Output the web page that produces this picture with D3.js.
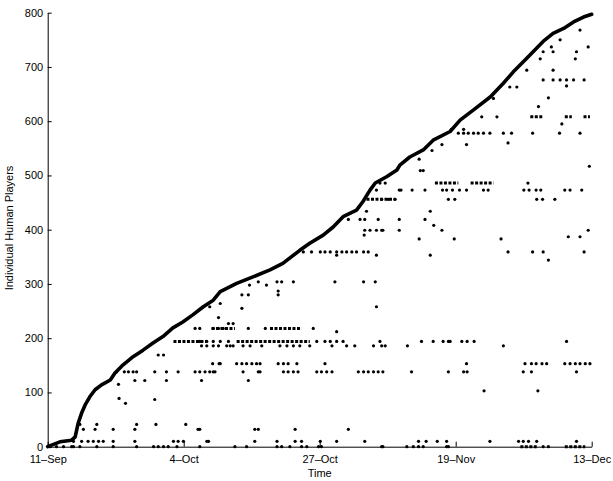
<!doctype html>
<html>
<head>
<meta charset="utf-8">
<style>
  body { margin: 0; background: #fff; }
  text { font-family: "Liberation Sans", Arial, sans-serif; fill: #000; }
</style>
</head>
<body>

<div id="container"></div>

<script src="https://d3js.org/d3.v7.min.js"></script>
<script type="text/javascript">

    // days since 11-Sep and running count of distinct players (first appearances)
    var curveDays = [0, 2.1, 4.1, 4.7, 5.2, 5.8, 6.4, 7.2, 8.1, 9.2, 10.7, 11.5, 12.9, 14.6, 16.3, 18.0, 19.7, 21.4, 23.1, 24.8,
        26.6, 28.3, 29.5, 32.3, 35.1, 38.0, 40.2, 43.1, 44.8, 47.1, 48.8, 50.5, 52.8, 53.9, 55.1, 56.0, 58.0, 59.7, 60.2, 61.9,
        64.2, 65.9, 68.8, 70.5, 72.8, 75.7, 77.9, 79.6, 81.9, 84.7, 86.4, 88.2, 89.9, 91.6, 93.0];
    var curvePlayers = [0, 9, 12, 18, 43, 62, 77, 92, 105, 114, 123, 136, 151, 166, 178, 191, 203, 219, 230, 243,
        258, 270, 286, 301, 313, 326, 338, 362, 375, 390, 405, 424, 436, 452, 473, 486, 498, 510, 519, 534,
        547, 565, 581, 602, 621, 645, 670, 691, 716, 747, 762, 771, 783, 792, 797];

    // returning players: [player index, [days seen]]
    var returnRows = [
        [0, [0.4, 1.5, 2.7, 4.1, 4.4, 5.5, 8.4, 11.2, 15.2, 18.1, 18.9, 19.8, 20.6, 22.1, 26.0, 32.0, 34.0, 39.2, 40.0, 41.4, 43.4, 44.3, 46.3, 46.8, 57.1, 57.3, 61.4, 62.5, 63.4, 64.2, 68.2, 68.5, 84.7, 85.6]],
        [10, [4.4, 5.8, 6.9, 7.8, 8.7, 9.5, 11.2, 14.9, 21.5, 22.3, 23.2, 27.2, 27.5, 35.4, 39.2, 42.3, 43.4, 46.6, 49.4, 54.2, 63.4, 64.7, 66.6, 68.2, 75.6, 80.5, 81.3, 82.2, 83.6, 90.4]],
        [32, [6.1, 8.1, 11.2, 14.9, 25.7, 26.0, 35.4, 36.0, 42.3, 51.4]],
        [41, [5.5, 8.4, 15.2, 18.5, 23.6]],
        [80, [13.3]],
        [87, [18.3]],
        [89, [12.2]],
        [103, [74.6, 83.8]],
        [115, [12.1]],
        [122, [14.9, 16.6, 20.3, 26.3, 34.3]],
        [138, [11.8, 13.1, 13.8, 14.6, 15.2, 18.3, 20.3, 22.3, 25.2, 26.0, 26.9, 27.7, 28.3, 28.6, 33.4, 36.0, 36.3, 40.3, 41.1, 42.0, 42.8, 46.0, 46.8, 47.7, 48.6, 53.1, 54.0, 54.8, 55.7, 56.5, 57.3, 62.2, 68.5, 71.1, 71.7, 81.3, 82.7, 90.4]],
        [153, [28.2, 29.3, 29.5, 32.3, 33.2, 34.0, 34.9, 35.7, 36.3, 39.4, 40.3, 41.1, 42.6, 47.4, 71.6, 81.6, 82.7, 83.5, 84.5, 85.3, 88.4, 89.3, 90.2, 91.0, 91.9, 92.7]],
        [169, [18.9, 19.8]],
        [186, [26.3, 27.2, 28.3, 29.2, 30.6, 31.2, 31.7, 33.4, 34.6, 36.6, 39.7, 40.9, 42.0, 43.1, 44.8, 48.6, 51.1, 52.5, 55.7, 57.1, 57.7, 61.5, 77.9]],
        [194, [26.0, 27.2, 28.3, 29.5, 30.9, 46.0, 47.4, 48.3, 49.4, 50.5, 56.8, 63.9, 65.9, 67.6, 68.5, 68.8, 70.8, 71.7, 72.9, 88.7]],
        [212, [49.4]],
        [218, [25.2, 26.0, 28.3, 29.2, 30.0, 34.3, 37.2, 45.4]],
        [227, [30.9, 31.7]],
        [238, [29.2]],
        [255, [33.2]],
        [258, [27.7, 56.2]],
        [264, [29.5]],
        [280, [33.2, 34.3, 39.4]],
        [287, [39.4]],
        [298, [34.5, 37.4]],
        [304, [36.0, 39.2, 40.0, 42.0, 49.1, 54.0, 56.0]],
        [344, [85.6]],
        [353, [49.4, 56.2, 65.4]],
        [359, [43.7, 45.1, 46.6, 47.4, 48.3, 49.4, 50.3, 51.1, 52.0, 52.8, 54.0, 54.8, 78.7, 82.9, 84.7, 91.7]],
        [383, [63.5, 69.5, 77.5]],
        [387, [89.0, 91.0]],
        [390, [54.1]],
        [399, [54.2, 55.1, 56.2, 57.1, 57.3, 60.1, 67.4, 92.4]],
        [408, [66.0]],
        [419, [51.4, 53.4, 54.2, 56.5, 60.1, 64.5]],
        [434, [54.5, 65.4]],
        [456, [57.1, 58.2, 59.4, 68.5, 69.6, 83.6, 84.6, 86.7]],
        [473, [56.2, 60.1, 60.4, 62.3, 64.5, 67.5, 68.2, 69.2, 70.4, 71.6, 74.5, 75.3, 81.4, 82.3, 83.5, 84.3, 88.4, 89.3, 91.3]],
        [486, [56.8, 57.7, 82.1]],
        [509, [63.7, 64.2]],
        [517, [92.6]],
        [530, [63.5]],
        [546, [65.7]],
        [557, [67.4, 71.6]],
        [560, [78.7]],
        [578, [70.2, 71.1, 71.9, 72.8, 73.6, 74.5, 75.6, 77.9, 79.3, 82.9, 87.5, 91.0]],
        [585, [69.0, 71.1]],
        [595, [87.9]],
        [608, [74.2, 76.8]],
        [627, [83.9]],
        [642, [76.2]],
        [643, [85.6]],
        [663, [79.0, 80.2]],
        [665, [88.7]],
        [676, [84.7, 86.4, 87.6, 88.7, 89.9, 91.7]],
        [694, [81.9, 86.4]],
        [715, [84.2, 90.2]],
        [728, [84.7, 86.4, 90.4]],
        [737, [86.1, 92.4]],
        [750, [87.6]],
        [768, [91.0]]
    ];

    // players seen every day over a stretch: [first day, last day, player index]
    var returnRuns = [
        [21.5, 27.2, 194], [32.3, 44.8, 194],
        [28.0, 32.0, 218], [38.0, 43.4, 218],
        [54.5, 59.4, 456],
        [66.2, 70.2, 486], [72.3, 76.2, 486],
        [82.5, 84.7, 608], [88.4, 89.6, 608], [91.6, 92.7, 608],
        [80.8, 83.6, 0], [88.4, 91.9, 0]
    ];

    var tickDays = [0, 23.25, 46.5, 69.75, 93];
    var tickLabels = ["11\u2013Sep", "4\u2013Oct", "27\u2013Oct", "19\u2013Nov", "13\u2013Dec"];
    var yTicks = [0, 100, 200, 300, 400, 500, 600, 700, 800];

    var width = 613, height = 481;
    var margin = {top: 12.7, right: 21.3, bottom: 34.3, left: 47.7};
    var innerwidth = width - margin.left - margin.right,
        innerheight = height - margin.top - margin.bottom;

    var svg = d3.select("#container").append("svg")
        .attr("width", width)
        .attr("height", height);

    svg.append("rect").attr("width", width).attr("height", height).attr("fill", "#fff");

    var g = svg.append("g")
        .attr("transform", "translate(" + margin.left + "," + margin.top + ")");

    var x_scale = d3.scaleLinear().domain([0, 93]).range([0, innerwidth]);
    var y_scale = d3.scaleLinear().domain([0, 800]).range([innerheight, 0]);

    // scatter of returning players
    var dots = [];
    returnRows.forEach(function (r) {
        r[1].forEach(function (d) { dots.push([d, r[0]]); });
    });

    g.selectAll(".run")
        .data(returnRuns)
        .enter().append("line")
        .attr("class", "run")
        .attr("x1", function (d) { return x_scale(d[0]); })
        .attr("x2", function (d) { return x_scale(d[1]); })
        .attr("y1", function (d) { return y_scale(d[2]); })
        .attr("y2", function (d) { return y_scale(d[2]); })
        .attr("stroke", "#000")
        .attr("stroke-width", 3)
        .attr("stroke-dasharray", "3,1.5");

    g.selectAll(".dot")
        .data(dots)
        .enter().append("circle")
        .attr("class", "dot")
        .attr("cx", function (d) { return x_scale(d[0]); })
        .attr("cy", function (d) { return y_scale(d[1]); })
        .attr("r", 1.6)
        .attr("fill", "#000");

    // cumulative first-appearance curve
    var draw_line = d3.line()
        .x(function (d) { return x_scale(d[0]); })
        .y(function (d) { return y_scale(d[1]); });

    g.append("path")
        .datum(d3.zip(curveDays, curvePlayers))
        .attr("d", draw_line)
        .attr("fill", "none")
        .attr("stroke", "#000")
        .attr("stroke-width", 3.6)
        .attr("stroke-linejoin", "round")
        .attr("stroke-linecap", "round");

    // axes (box off, ticks inward)
    var x_axis = d3.axisBottom(x_scale)
        .tickValues(tickDays)
        .tickFormat(function (d, i) { return tickLabels[i]; })
        .tickSizeInner(-5)
        .tickSizeOuter(0)
        .tickPadding(9);

    var y_axis = d3.axisLeft(y_scale)
        .tickValues(yTicks)
        .tickSizeInner(-4)
        .tickSizeOuter(0)
        .tickPadding(4.5);

    var xa = g.append("g")
        .attr("transform", "translate(0," + innerheight + ")")
        .call(x_axis);
    var ya = g.append("g").call(y_axis);

    [xa, ya].forEach(function (a) {
        a.selectAll("text").style("font-size", "11px").attr("fill", "#000");
        a.selectAll("path, line").attr("stroke", "#000");
        a.attr("font-family", null);
    });

    svg.append("text")
        .attr("x", margin.left + innerwidth / 2)
        .attr("y", 477)
        .style("text-anchor", "middle")
        .style("font-size", "11px")
        .text("Time");

    svg.append("text")
        .attr("transform", "translate(13,228) rotate(-90)")
        .style("text-anchor", "middle")
        .style("font-size", "11px")
        .text("Individual Human Players");

</script>
</body>
</html>
